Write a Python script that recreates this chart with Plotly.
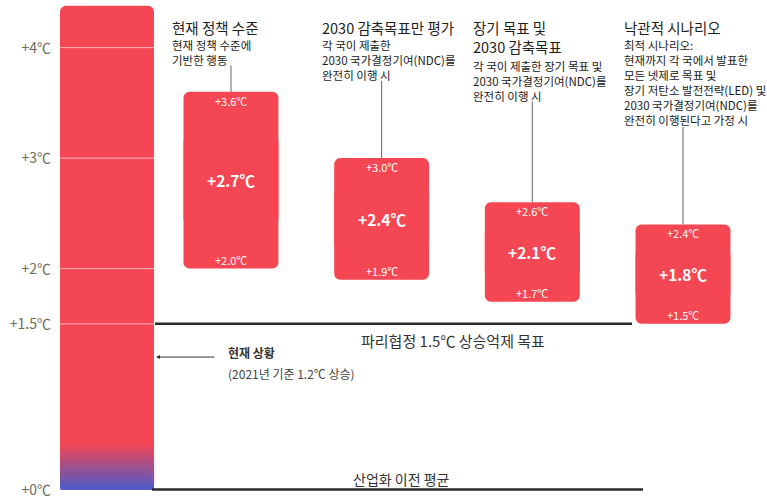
import plotly.graph_objects as go

# ---------------- data ----------------
scenario_titles = ["현재 정책 수준", "2030 감축목표만 평가", "장기 목표 및<br>2030 감축목표", "낙관적 시나리오"]
scenario_notes = [
    "현재 정책 수준에<br>기반한 행동",
    "각 국이 제출한<br>2030 국가결정기여(NDC)를<br>완전히 이행 시",
    "각 국이 제출한 장기 목표 및<br>2030 국가결정기여(NDC)를<br>완전히 이행 시",
    "최적 시나리오:<br>현재까지 각 국에서 발표한<br>모든 넷제로 목표 및<br>장기 저탄소 발전전략(LED) 및<br>2030 국가결정기여(NDC)를<br>완전히 이행된다고 가정 시",
]
low_vals = [2.0, 1.9, 1.7, 1.5]
central_vals = [2.7, 2.4, 2.1, 1.8]
high_vals = [3.6, 3.0, 2.6, 2.4]
tick_vals = [0, 1.5, 2, 3, 4]
tick_text = ["+0℃", "+1.5℃", "+2℃", "+3℃", "+4℃"]
current_rise = 1.2
current_year = 2021
paris_target = 1.5
scale_top = 4.38

# ---------------- layout constants ----------------
W, H = 767, 500
ML = 60
PW = W - ML
Y0, Y1 = -0.094, 4.431
X0, X1 = -0.1347, 4.5576
RED = "#F54753"
BLUE = "#4B5BC8"
BAR_W = 0.63
FONT = "Noto Sans CJK KR"


def px_x(px):
    return X0 + (px - ML) / PW * (X1 - X0)


def px_y(py):
    return Y0 + (H - py) / H * (Y1 - Y0)


def paper_x(px):
    return (px - ML) / PW


def paper_y(py):
    return (H - py) / H


positions = list(range(1, len(low_vals) + 1))
therm_x = px_x(107)
TW = BAR_W - 0.006

fig = go.Figure()

# thermometer body: two overlapping halves so both ends are rounded
fig.add_trace(go.Bar(x=[therm_x], base=[scale_top * 0.3], y=[scale_top * 0.7],
                     width=TW, marker=dict(color=RED, cornerradius=6, line_width=0),
                     hoverinfo="skip", showlegend=False))
fig.add_trace(go.Bar(x=[therm_x], base=[scale_top * 0.7], y=[-scale_top * 0.7],
                     width=TW, marker=dict(color=RED, cornerradius=6, line_width=0),
                     hoverinfo="skip", showlegend=False))

# thermometer gradient bottom (blue -> red)
N = 24
grad_top = 0.42
r1, g1, b1 = int(RED[1:3], 16), int(RED[3:5], 16), int(RED[5:7], 16)
r0, g0, b0 = int(BLUE[1:3], 16), int(BLUE[3:5], 16), int(BLUE[5:7], 16)
g_bases, g_heights, g_cols = [], [], []
for k in range(N, 0, -1):
    t = grad_top * k / N
    f = (k - 0.5) / N
    col = "rgb(%d,%d,%d)" % (r0 + (r1 - r0) * f, g0 + (g1 - g0) * f, b0 + (b1 - b0) * f)
    g_bases.append(t)
    g_heights.append(-t)
    g_cols.append(col)
fig.add_trace(go.Bar(x=[therm_x] * N, base=g_bases, y=g_heights, width=TW,
                     marker=dict(color=g_cols, cornerradius=6, line_width=0),
                     hoverinfo="skip", showlegend=False))

# scenario bars (two overlapping halves -> all corners rounded)
mids = [(lo + hi) / 2 for lo, hi in zip(low_vals, high_vals)]
quarters = [(hi - lo) / 4 for lo, hi in zip(low_vals, high_vals)]
fig.add_trace(go.Bar(x=positions, base=[m - q for m, q in zip(mids, quarters)],
                     y=[hi - (m - q) for hi, m, q in zip(high_vals, mids, quarters)],
                     width=BAR_W, marker=dict(color=RED, cornerradius=6, line_width=0),
                     hoverinfo="skip", showlegend=False))
fig.add_trace(go.Bar(x=positions, base=[m + q for m, q in zip(mids, quarters)],
                     y=[lo - (m + q) for lo, m, q in zip(low_vals, mids, quarters)],
                     width=BAR_W, marker=dict(color=RED, cornerradius=6, line_width=0),
                     hoverinfo="skip", showlegend=False))

shapes = []
# white lines across thermometer
for v in tick_vals[1:]:
    shapes.append(dict(type="line", xref="x", yref="y", x0=therm_x - TW / 2, x1=therm_x + TW / 2,
                       y0=v, y1=v, line=dict(color="rgba(255,255,255,0.6)", width=1), layer="above"))
# reference lines
shapes.append(dict(type="line", xref="paper", yref="y", x0=paper_x(155), x1=paper_x(632),
                   y0=paris_target, y1=paris_target, line=dict(color="#2b2b2b", width=2.5)))
shapes.append(dict(type="line", xref="paper", yref="y", x0=paper_x(152), x1=paper_x(643),
                   y0=0, y1=0, line=dict(color="#2b2b2b", width=2.5)))

annotations = []
for i, pos in enumerate(positions):
    n_title = scenario_titles[i].count("<br>") + 1
    n_note = scenario_notes[i].count("<br>") + 1
    title_top = 15
    note_first = 43 + (n_title - 1) * 20.5
    note_top = note_first - 7.5
    conn_top = note_first + (n_note - 1) * 15.4 + 7
    shapes.append(dict(type="line", xref="x", yref="y", x0=pos, x1=pos, y0=high_vals[i],
                       y1=px_y(conn_top), line=dict(color="#666666", width=1), layer="below"))
    annotations.append(dict(x=pos - BAR_W / 2, xshift=-14, xref="x", yref="paper", y=paper_y(title_top),
                            xanchor="left", yanchor="top", align="left", showarrow=False,
                            text=scenario_titles[i], font=dict(family=FONT, size=14.5, color="#1e1e1e")))
    annotations.append(dict(x=pos - BAR_W / 2, xshift=-14, xref="x", yref="paper", y=paper_y(note_top),
                            xanchor="left", yanchor="top", align="left", showarrow=False,
                            text=scenario_notes[i], font=dict(family=FONT, size=11.5, color="#1a1a1a")))
    annotations.append(dict(x=pos, y=high_vals[i], yshift=-9, xref="x", yref="y", showarrow=False,
                            text="+%.1f℃" % high_vals[i], font=dict(family=FONT, size=11, color="white")))
    annotations.append(dict(x=pos, y=low_vals[i], yshift=9, xref="x", yref="y", showarrow=False,
                            text="+%.1f℃" % low_vals[i], font=dict(family=FONT, size=11, color="white")))
    annotations.append(dict(x=pos, y=mids[i], xref="x", yref="y", showarrow=False,
                            text="<b>+%.1f℃</b>" % central_vals[i],
                            font=dict(family=FONT, size=15.5, color="white")))

# current status arrow + text
annotations.append(dict(x=paper_x(156), xref="paper", y=current_rise, yref="y", ax=60, ay=0,
                        axref="pixel", ayref="pixel", showarrow=True, arrowhead=2, arrowsize=0.8,
                        arrowwidth=1, arrowcolor="#333333", text=""))
annotations.append(dict(x=paper_x(226), xref="paper", y=current_rise, yref="y", yshift=5,
                        xanchor="left", showarrow=False, text="<b>현재 상황</b>",
                        font=dict(family=FONT, size=12, color="#333333")))
annotations.append(dict(x=paper_x(226), xref="paper", y=current_rise, yref="y", yshift=-16,
                        xanchor="left", showarrow=False,
                        text="(%d년 기준 %.1f℃ 상승)" % (current_year, current_rise),
                        font=dict(family=FONT, size=12, color="#444444")))
annotations.append(dict(x=paper_x(453), xref="paper", y=paris_target, yref="y", yshift=-17,
                        showarrow=False, text="파리협정 %.1f℃ 상승억제 목표" % paris_target,
                        font=dict(family=FONT, size=15, color="#333333")))
annotations.append(dict(x=paper_x(401), xref="paper", y=0, yref="y", yshift=11,
                        showarrow=False, text="산업화 이전 평균",
                        font=dict(family=FONT, size=14, color="#333333")))

fig.update_layout(
    width=W, height=H,
    margin=dict(l=ML, r=0, t=0, b=0, autoexpand=False),
    barmode="overlay",
    plot_bgcolor="white", paper_bgcolor="white",
    showlegend=False,
    shapes=shapes, annotations=annotations,
    xaxis=dict(range=[X0, X1], visible=False, fixedrange=True),
    yaxis=dict(range=[Y0, Y1], tickvals=tick_vals, ticktext=tick_text, showgrid=False,
               zeroline=False, showline=False, ticks="", ticklabelstandoff=8, automargin=False,
               tickfont=dict(family=FONT, size=14, color="#6f6b55"), fixedrange=True),
    font=dict(family=FONT),
)

fig.write_html("out.html", config={"displayModeBar": False},
               post_script="document.body.style.margin='0';document.body.style.overflow='hidden';")
